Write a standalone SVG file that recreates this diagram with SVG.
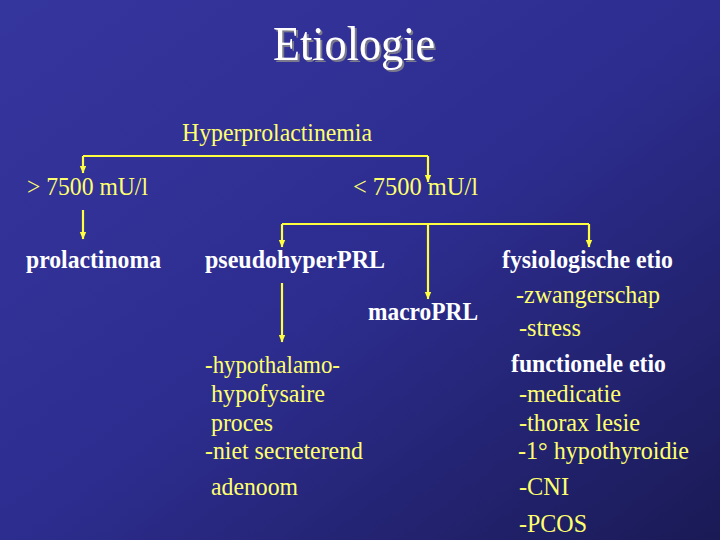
<svg xmlns="http://www.w3.org/2000/svg" width="720" height="540" viewBox="0 0 720 540">
  <defs>
    <linearGradient id="bg" x1="0" y1="0" x2="1" y2="1">
      <stop offset="0" stop-color="#35359E"/>
      <stop offset="0.5" stop-color="#2D2D90"/>
      <stop offset="1" stop-color="#1A1A56"/>
    </linearGradient>
    <filter id="shadow" x="-10%" y="-20%" width="130%" height="150%">
      <feDropShadow dx="2" dy="2" stdDeviation="0.6" flood-color="#7A7A8C" flood-opacity="1"/>
    </filter>
    <marker id="arr" markerUnits="userSpaceOnUse" markerWidth="8" markerHeight="8" viewBox="0 0 8 8" refX="7" refY="4" orient="auto">
      <path d="M0,0.8 L7.5,4 L0,7.2 Z" fill="#FFFF40"/>
    </marker>
    <style>
      .lblY { font-family: "Liberation Serif", serif; font-size: 25.5px; fill: #FFFF6E; }
      .lblW { font-family: "Liberation Serif", serif; font-size: 25px; fill: #FFFFFF; font-weight: bold; }
      .ln { stroke: #FFFF40; stroke-width: 2.2; fill: none; }
      .ar { stroke: #FFFF40; stroke-width: 2.2; fill: none; marker-end: url(#arr); }
    </style>
  </defs>
  <rect width="720" height="540" fill="url(#bg)"/>

  <g id="title">
    <text x="273" y="60" font-family="Liberation Serif, serif" font-size="48" fill="#FFFFFF" filter="url(#shadow)" textLength="162" lengthAdjust="spacingAndGlyphs">Etiologie</text>
  </g>

  <g id="connectors">
    <path class="ln" d="M83,156 H428"/>
    <path class="ar" d="M83,156 V173"/>
    <path class="ar" d="M428,156 V182"/>
    <path class="ar" d="M83,210 V239"/>
    <path class="ln" d="M282,224 H589"/>
    <path class="ar" d="M282,224 V247"/>
    <path class="ar" d="M428,224 V299"/>
    <path class="ar" d="M589,224 V247"/>
    <path class="ar" d="M282,283 V342"/>
  </g>

  <g id="hyperprolactinemia"><text class="lblY" x="182" y="141" textLength="190" lengthAdjust="spacingAndGlyphs">Hyperprolactinemia</text></g>
  <g id="gt7500"><text class="lblY" x="27" y="195" textLength="121" lengthAdjust="spacingAndGlyphs">&gt; 7500 mU/l</text></g>
  <g id="lt7500"><text class="lblY" x="353" y="195" textLength="125" lengthAdjust="spacingAndGlyphs">&lt; 7500 mU/l</text></g>
  <g id="prolactinoma"><text class="lblW" x="26" y="268" textLength="135" lengthAdjust="spacingAndGlyphs">prolactinoma</text></g>
  <g id="pseudohyperPRL"><text class="lblW" x="205" y="268" textLength="180" lengthAdjust="spacingAndGlyphs">pseudohyperPRL</text></g>
  <g id="fysiologische">
    <text class="lblW" x="502" y="268" textLength="171" lengthAdjust="spacingAndGlyphs">fysiologische etio</text>
    <text class="lblY" x="516" y="303" textLength="144" lengthAdjust="spacingAndGlyphs">-zwangerschap</text>
    <text class="lblY" x="519" y="336" textLength="62" lengthAdjust="spacingAndGlyphs">-stress</text>
  </g>
  <g id="macroPRL"><text class="lblW" x="368" y="320" textLength="110" lengthAdjust="spacingAndGlyphs">macroPRL</text></g>
  <g id="hypothalamo">
    <text class="lblY" x="205" y="373" textLength="135" lengthAdjust="spacingAndGlyphs">-hypothalamo-</text>
    <text class="lblY" x="211" y="402" textLength="114" lengthAdjust="spacingAndGlyphs">hypofysaire</text>
    <text class="lblY" x="211" y="431" textLength="62" lengthAdjust="spacingAndGlyphs">proces</text>
    <text class="lblY" x="205" y="459" textLength="158" lengthAdjust="spacingAndGlyphs">-niet secreterend</text>
    <text class="lblY" x="211" y="495" textLength="87" lengthAdjust="spacingAndGlyphs">adenoom</text>
  </g>
  <g id="functionele">
    <text class="lblW" x="511" y="372" textLength="155" lengthAdjust="spacingAndGlyphs">functionele etio</text>
    <text class="lblY" x="519" y="402" textLength="102" lengthAdjust="spacingAndGlyphs">-medicatie</text>
    <text class="lblY" x="519" y="431" textLength="121" lengthAdjust="spacingAndGlyphs">-thorax lesie</text>
    <text class="lblY" x="518" y="459" textLength="171" lengthAdjust="spacingAndGlyphs">-1° hypothyroidie</text>
    <text class="lblY" x="519" y="495" textLength="50" lengthAdjust="spacingAndGlyphs">-CNI</text>
    <text class="lblY" x="519" y="532" textLength="68" lengthAdjust="spacingAndGlyphs">-PCOS</text>
  </g>
</svg>
